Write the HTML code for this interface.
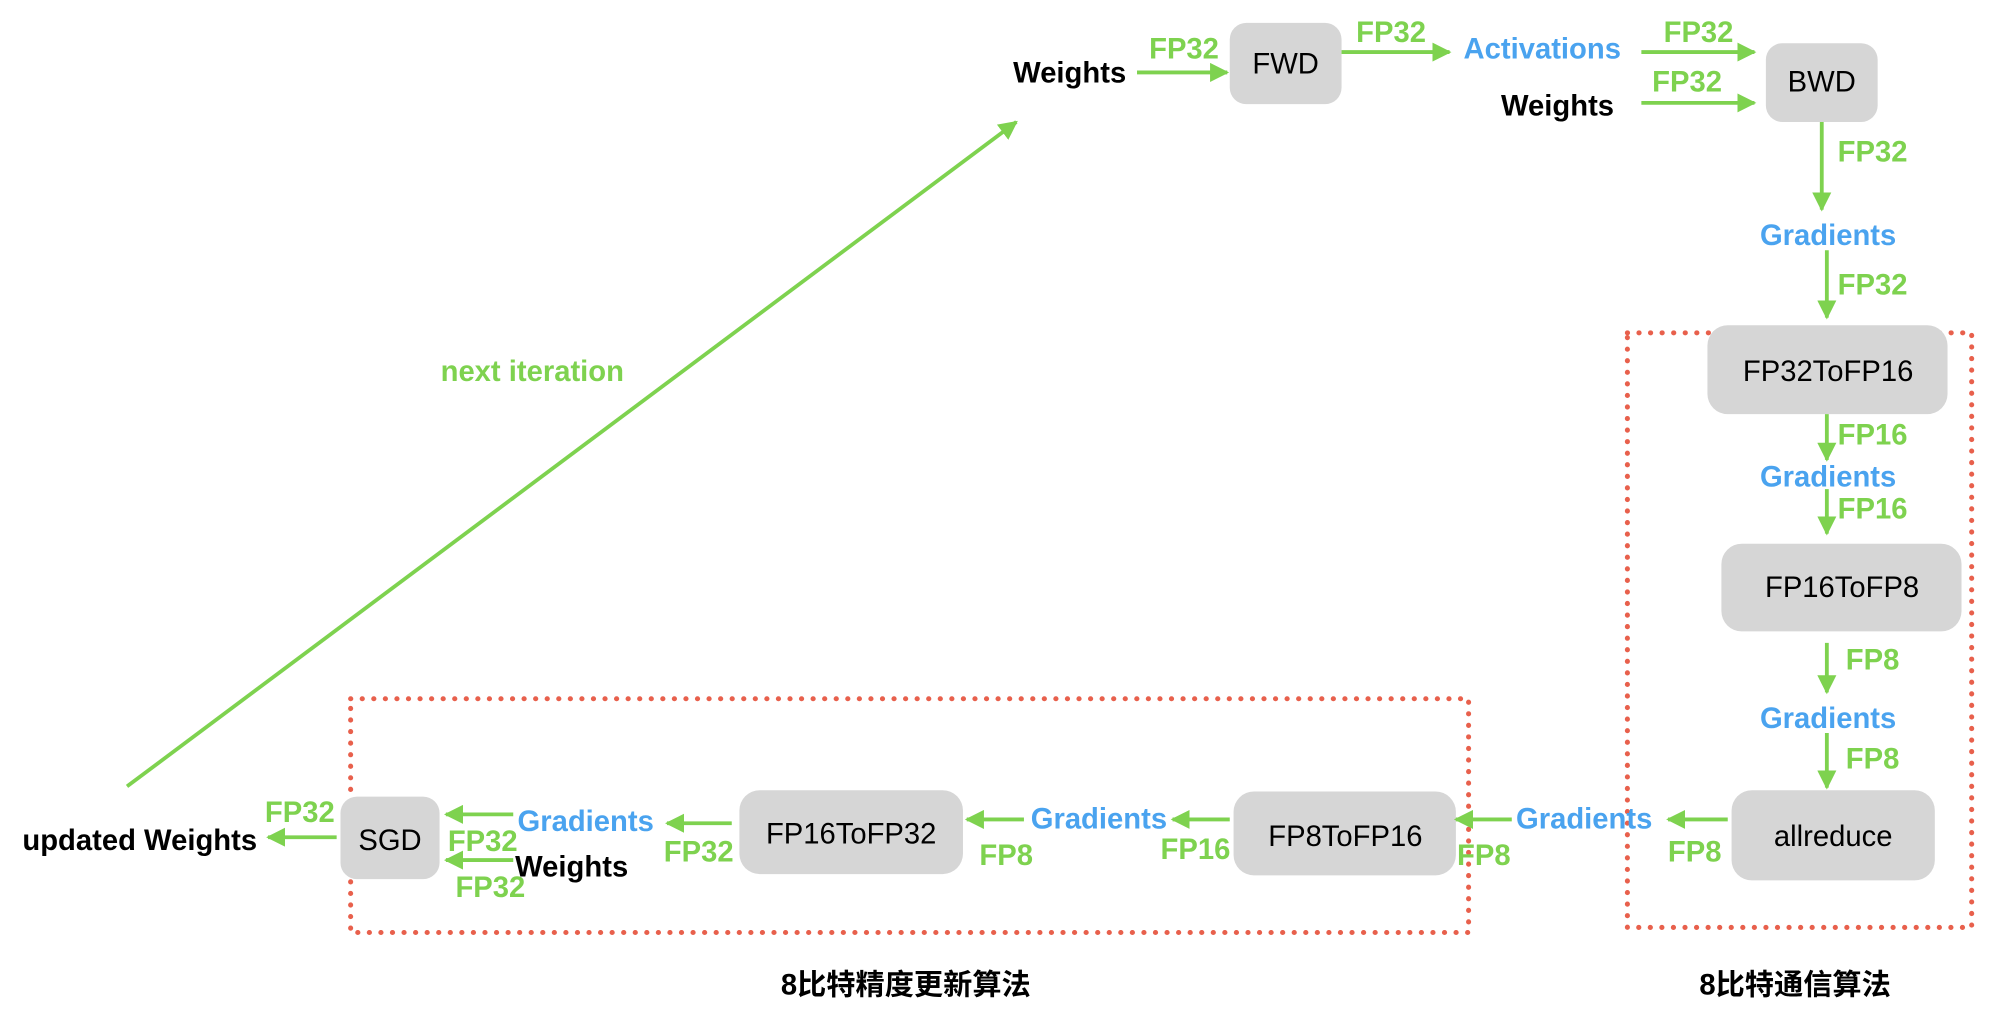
<!DOCTYPE html>
<html><head><meta charset="utf-8"><style>html,body{margin:0;padding:0;background:#fff}svg{display:block}</style></head>
<body>
<svg width="1992" height="1010" viewBox="0 0 1568 795" preserveAspectRatio="none" xmlns="http://www.w3.org/2000/svg">
<defs>
<marker id="a" viewBox="0 0 10 10" refX="9" refY="5" markerWidth="5" markerHeight="5" orient="auto-start-reverse" markerUnits="strokeWidth"><path d="M0,0L10,5L0,10z" fill="#7ed24f"/></marker>
</defs>
<style>
.g{fill:#7ed24f;font:bold 23px "Liberation Sans",sans-serif;text-anchor:middle}
.b{fill:#4aa3ef;font:bold 23px "Liberation Sans",sans-serif;text-anchor:middle}
.k{fill:#000;font:bold 23px "Liberation Sans",sans-serif;text-anchor:middle}
.n{fill:#000;font:23px "Liberation Sans",sans-serif;text-anchor:middle}
.c{fill:#000;font:bold 23px "Liberation Sans","Noto Sans CJK SC",sans-serif;text-anchor:middle}
line{stroke:#7ed24f;stroke-width:3;marker-end:url(#a)}
rect.x{fill:#d6d6d6}
rect.d{fill:none;stroke:#e8604c;stroke-width:4;stroke-dasharray:0.1 9;stroke-linecap:round}
</style>
<rect class="d" x="1281" y="262" width="271" height="468"/>
<rect class="d" x="276" y="550" width="880" height="184"/>

<rect class="x" x="968" y="18" width="88" height="64" rx="13"/>
<rect class="x" x="1390" y="34" width="88" height="62" rx="13"/>
<rect class="x" x="1344" y="256" width="189" height="70" rx="16"/>
<rect class="x" x="1355" y="428" width="189" height="69" rx="16"/>
<rect class="x" x="1363" y="622" width="160" height="71" rx="16"/>
<rect class="x" x="971" y="623" width="175" height="66" rx="16"/>
<rect class="x" x="582" y="622" width="176" height="66" rx="16"/>
<rect class="x" x="268" y="627" width="78" height="65" rx="13"/>

<text class="n" x="1012" y="58">FWD</text>
<text class="n" x="1434" y="72">BWD</text>
<text class="n" x="1439" y="300">FP32ToFP16</text>
<text class="n" x="1450" y="470">FP16ToFP8</text>
<text class="n" x="1443" y="666">allreduce</text>
<text class="n" x="1059" y="666">FP8ToFP16</text>
<text class="n" x="670" y="664">FP16ToFP32</text>
<text class="n" x="307" y="669">SGD</text>

<text class="k" x="842" y="65">Weights</text>
<line x1="895" y1="57" x2="966" y2="57"/><text class="g" x="932" y="46">FP32</text>
<line x1="1056" y1="41" x2="1141" y2="41"/><text class="g" x="1095" y="33">FP32</text>
<text class="b" x="1214" y="46">Activations</text>
<line x1="1292" y1="41" x2="1381" y2="41"/><text class="g" x="1337" y="33">FP32</text>
<text class="k" x="1226" y="91">Weights</text>
<line x1="1292" y1="81" x2="1381" y2="81"/><text class="g" x="1328" y="72">FP32</text>
<line x1="1434" y1="96" x2="1434" y2="165"/><text class="g" x="1474" y="127">FP32</text>
<text class="b" x="1439" y="193">Gradients</text>
<line x1="1438" y1="197" x2="1438" y2="250"/><text class="g" x="1474" y="232">FP32</text>
<line x1="1438" y1="326" x2="1438" y2="362"/><text class="g" x="1474" y="350">FP16</text>
<text class="b" x="1439" y="383">Gradients</text>
<line x1="1438" y1="385" x2="1438" y2="420"/><text class="g" x="1474" y="408">FP16</text>
<line x1="1438" y1="506" x2="1438" y2="545"/><text class="g" x="1474" y="527">FP8</text>
<text class="b" x="1439" y="573">Gradients</text>
<line x1="1438" y1="577" x2="1438" y2="620"/><text class="g" x="1474" y="605">FP8</text>

<line x1="1360" y1="645" x2="1313" y2="645"/><text class="g" x="1334" y="678">FP8</text>
<text class="b" x="1247" y="652">Gradients</text>
<line x1="1190" y1="645" x2="1146" y2="645"/><text class="g" x="1168" y="681">FP8</text>
<line x1="968" y1="645" x2="923" y2="645"/><text class="g" x="941" y="676">FP16</text>
<text class="b" x="865" y="652">Gradients</text>
<line x1="806" y1="645" x2="761" y2="645"/><text class="g" x="792" y="681">FP8</text>
<line x1="576" y1="648" x2="525" y2="648"/><text class="g" x="550" y="678">FP32</text>
<text class="b" x="461" y="654">Gradients</text>
<line x1="404" y1="641" x2="351" y2="641"/><text class="g" x="380" y="670">FP32</text>
<text class="k" x="450" y="690">Weights</text>
<line x1="404" y1="677" x2="351" y2="677"/><text class="g" x="386" y="706">FP32</text>
<line x1="265" y1="659" x2="211" y2="659"/><text class="g" x="236" y="647">FP32</text>
<text class="k" x="110" y="669">updated Weights</text>

<line x1="100" y1="619" x2="800" y2="96"/>
<text class="g" x="419" y="300">next iteration</text>

<text class="c" x="713" y="783">8比特精度更新算法</text>
<text class="c" x="1413" y="783">8比特通信算法</text>
</svg>
</body></html>
